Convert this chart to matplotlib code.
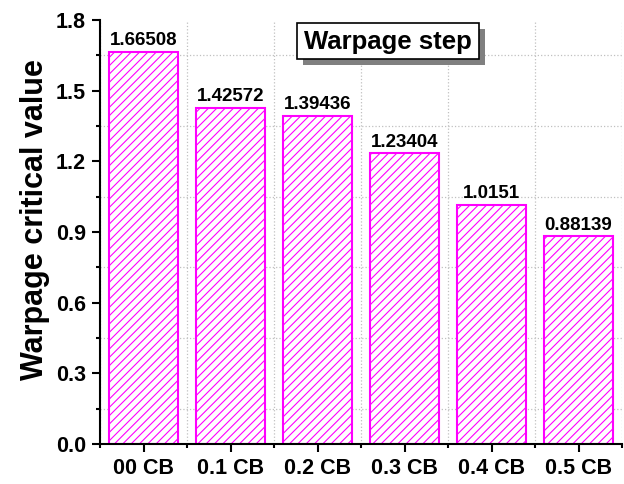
import matplotlib
matplotlib.use('Agg')
import matplotlib.pyplot as plt
from matplotlib.patches import Rectangle
from matplotlib.ticker import MultipleLocator, FixedLocator

plt.rcParams['font.family'] = 'Liberation Sans'
plt.rcParams['font.weight'] = 'bold'
plt.rcParams['hatch.linewidth'] = 0.8

# data
categories = ['00 CB', '0.1 CB', '0.2 CB', '0.3 CB', '0.4 CB', '0.5 CB']
values = [1.66508, 1.42572, 1.39436, 1.23404, 1.0151, 0.88139]
value_labels = ['1.66508', '1.42572', '1.39436', '1.23404', '1.0151', '0.88139']

W, H = 624, 484
fig = plt.figure(figsize=(W / 100, H / 100), dpi=100)
ax = fig.add_axes([100 / W, 40 / H, 522 / W, 424 / H])

x = list(range(len(categories)))
ax.bar(x, values, width=0.8, color='white', edgecolor='#FF00FF',
       hatch='////', linewidth=1.5, zorder=2)

for xi, v, lab in zip(x, values, value_labels):
    ax.annotate(lab, (xi, v), xytext=(0, 2), textcoords='offset points',
                ha='center', va='bottom', fontsize=13.5, fontweight='bold')

ax.set_xlim(-0.5, 5.5)
ax.set_ylim(0, 1.8)
ax.set_xticks(x)
ax.set_xticklabels(categories)
ax.xaxis.set_minor_locator(FixedLocator([i + 0.5 for i in range(-1, 6)]))
ax.yaxis.set_major_locator(MultipleLocator(0.3))
ax.yaxis.set_minor_locator(MultipleLocator(0.15))
ax.yaxis.set_major_formatter(matplotlib.ticker.FormatStrFormatter('%.1f'))

for s in ['top', 'right']:
    ax.spines[s].set_visible(False)
for s in ['left', 'bottom']:
    ax.spines[s].set_linewidth(1.5)

ax.tick_params(which='major', direction='out', length=6, width=1.5,
               labelsize=15.5, pad=4)
ax.tick_params(which='minor', direction='out', length=3, width=1.5)

# dotted grid at the minor positions
ax.grid(False)
ax.grid(which='minor', linestyle=':', color='#c0c0c0', linewidth=0.9, zorder=0)
ax.set_axisbelow(True)

ax.set_ylabel('Warpage critical value', fontsize=22, fontweight='bold')
ax.yaxis.set_label_coords(-0.096, 0.53)

# "Warpage step" box with shadow
bx, by, bw, bh = 297, 23, 182, 36
off = 6
fig.add_artist(Rectangle(((bx + off) / W, 1 - (by + bh + off) / H), bw / W, bh / H,
                         transform=fig.transFigure, facecolor='#808080',
                         edgecolor='none', zorder=5))
fig.add_artist(Rectangle((bx / W, 1 - (by + bh) / H), bw / W, bh / H,
                         transform=fig.transFigure, facecolor='white',
                         edgecolor='black', linewidth=1.2, zorder=6))
fig.text((bx + bw / 2) / W, 1 - (by + bh / 2 + 1) / H, 'Warpage step',
         ha='center', va='center', fontsize=18.5, fontweight='bold', zorder=7)

fig.savefig('out.png', dpi=100)
